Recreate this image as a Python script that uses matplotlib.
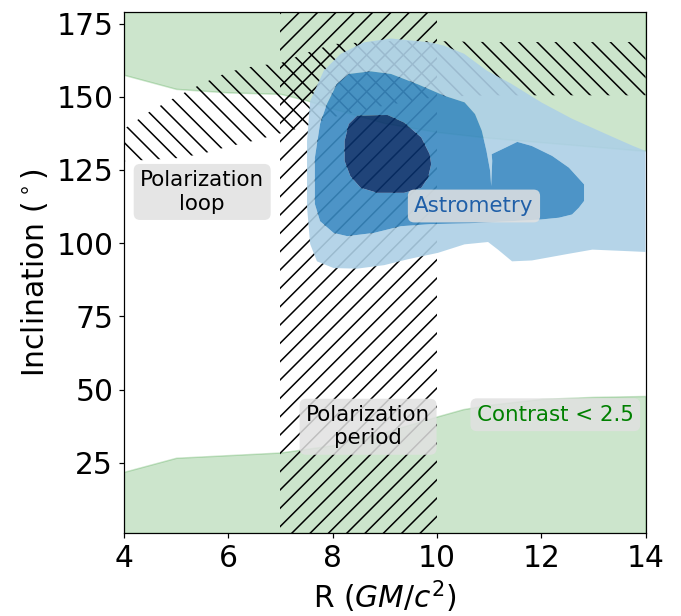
import numpy as np
import matplotlib
matplotlib.use("Agg")
import matplotlib.pyplot as plt
from matplotlib.path import Path
from matplotlib.patches import PathPatch

# ---------------- data ----------------
# upper "Contrast < 2.5" region (from boundary up to top)
R_green_top = [4, 5, 6, 7, 7.5, 8, 9, 10, 11, 12, 13, 14]
incl_green_top = [157.5, 152.7, 151.5, 151, 148.8, 146, 141, 138, 136, 134.5, 133, 131.5]
# lower "Contrast < 2.5" region (from bottom up to boundary)
R_green_bot = [4, 5, 7, 8, 9, 10, 10.5, 11, 12, 13, 14]
incl_green_bot = [21.9, 26.7, 28.5, 31, 35.5, 40.8, 43.3, 44.8, 46.8, 47.5, 47.8]

# polarization period band
R_period = [7, 10]

# polarization loop band
R_loop = [4, 4.5, 5, 5.5, 6, 6.5, 7, 7.5, 8, 9, 10, 11, 12, 13, 14]
loop_lo = [128, 128.5, 129, 130.5, 133, 135, 137.5, 140, 143, 147, 150, 150.5, 150.5, 150.5, 150.5]
loop_hi = [139, 145, 150, 154.5, 158.5, 160.5, 161.5, 165, 168, 169, 169, 168.7, 168.7, 168.7, 168.7]

# astrometry credible regions (outer, middle, inner)
astro_outer_R = [7.57, 7.83, 8.15, 8.60, 9.12, 9.87, 10.13, 10.52, 10.96, 11.42, 12.01, 12.59,
                 13.24, 13.76, 14.0, 14.0, 13.63, 12.98, 12.47, 11.82, 11.44, 11.17, 10.98,
                 10.53, 10.02, 9.44, 8.99, 8.47, 8.02, 7.70, 7.57, 7.51, 7.51]
astro_outer_i = [148.6, 158.9, 164.6, 168.6, 169.9, 168.6, 167.5, 164.7, 158.9, 154.5, 148.0, 142.5,
                 137.3, 133.2, 131.5, 97.0, 97.3, 97.8, 96.2, 94.1, 93.8, 97.8, 100.4,
                 99.6, 96.7, 94.5, 92.5, 91.3, 91.5, 93.8, 99.7, 112.3, 134.9]

astro_mid_R = [8.31, 8.73, 9.12, 9.63, 10.15, 10.53, 10.73, 10.86, 10.95, 11.02, 11.04, 11.06,
               11.05, 11.31, 11.54, 11.82, 12.21, 12.53, 12.82, 12.82, 12.72, 12.59, 12.34,
               12.0, 11.40, 10.63, 9.87, 9.31, 8.79, 8.28, 8.02, 7.76, 7.66, 7.66, 7.66,
               7.76, 7.89, 8.08]
astro_mid_i = [157.8, 158.7, 157.8, 154.3, 150.3, 148.1, 144.1, 138.4, 131.5, 124.7, 119.5, 128.1,
               130.4, 132.6, 134.6, 133.2, 129.8, 125.8, 120.1, 114.4, 112.1, 109.8, 108.7,
               108.1, 107.5, 106.8, 106.5, 105.8, 103.5, 102.4, 103.5, 107.5, 113.4, 124.7, 129.2,
               140.8, 147.5, 154.3]

astro_in_R = [8.47, 9.05, 9.37, 9.70, 9.86, 9.89, 9.83, 9.70, 9.37, 8.86, 8.54, 8.34, 8.23, 8.23, 8.31]
astro_in_i = [143.5, 143.8, 141.2, 136.1, 130.4, 127.0, 122.4, 118.9, 117.2, 117.2, 118.9, 122.9,
              128.1, 134.9, 140.7]

labels = ["Polarization\nloop", "Polarization\nperiod", "Astrometry", "Contrast < 2.5"]
label_R = [5.50, 8.68, 10.71, 12.27]
label_i = [117.5, 37.3, 112.7, 41.4]

xticks = [4, 6, 8, 10, 12, 14]
yticks = [25, 50, 75, 100, 125, 150, 175]
xlim = (4, 14)
ylim = (1, 179)

# ---------------- plot ----------------
fig = plt.figure(figsize=(681 / 110, 616 / 110), dpi=110)
ax = fig.add_axes([0.182, 0.1347, 0.766, 0.846])

green_kw = dict(color="green", alpha=0.2, lw=1, zorder=1)
ax.fill_between(R_green_top, incl_green_top, ylim[1], **green_kw)
ax.fill_between(R_green_bot, ylim[0], incl_green_bot, **green_kw)

ax.fill_betweenx(list(ylim), R_period[0], R_period[1], facecolor="none",
                 edgecolor="k", hatch="//", linewidth=0, zorder=2)
ax.fill_between(R_loop, loop_lo, loop_hi, facecolor="none",
                edgecolor="k", hatch="\\\\", linewidth=0, zorder=2)


def ring_path(outer, inner=None):
    def orient(pts, ccw):
        pts = np.asarray(pts, float)
        x, y = pts[:, 0], pts[:, 1]
        area = 0.5 * np.sum(x * np.roll(y, -1) - np.roll(x, -1) * y)
        if (area > 0) != ccw:
            pts = pts[::-1]
        return pts
    verts, codes = [], []
    rings = [orient(outer, True)]
    if inner is not None:
        rings.append(orient(inner, False))
    for ring in rings:
        verts.extend(ring.tolist())
        verts.append(ring[0].tolist())
        codes.extend([Path.MOVETO] + [Path.LINETO] * (len(ring) - 1) + [Path.CLOSEPOLY])
    return Path(verts, codes)


outer = list(zip(astro_outer_R, astro_outer_i))
mid = list(zip(astro_mid_R, astro_mid_i))
inner = list(zip(astro_in_R, astro_in_i))
cmap = plt.cm.Blues
for path, c in [(ring_path(outer, mid), cmap(0.33)),
                (ring_path(mid, inner), cmap(0.66)),
                (ring_path(inner), cmap(1.0))]:
    ax.add_patch(PathPatch(path, facecolor=c, edgecolor="none", alpha=0.9, zorder=3))

text_colors = ["black", "black", "#1f5fa8", "green"]
for t, r, i, c in zip(labels, label_R, label_i, text_colors):
    ax.text(r, i, t, ha="center", va="center", fontsize=14, color=c, zorder=5,
            bbox=dict(boxstyle="round,pad=0.3", fc="#e1e1e1", ec="none", alpha=0.85))

ax.set_xlim(*xlim)
ax.set_ylim(*ylim)
ax.set_xticks(xticks)
ax.set_yticks(yticks)
ax.tick_params(labelsize=19.5)
ax.set_xlabel(r"R ($GM/c^2$)", fontsize=19.5)
ax.set_ylabel(r"Inclination ($^\circ$)", fontsize=19.5)

fig.savefig("out.png", dpi=110)
